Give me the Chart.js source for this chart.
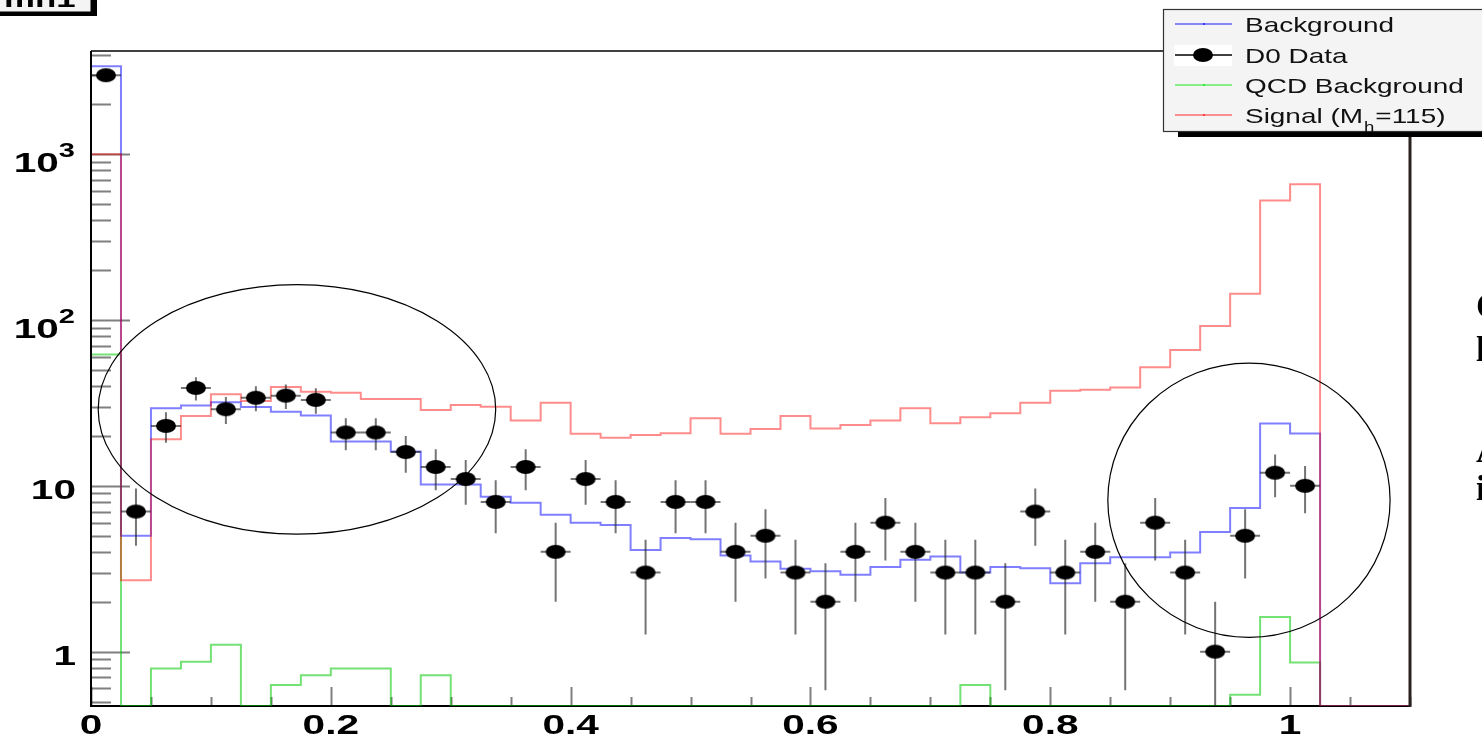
<!DOCTYPE html>
<html>
<head>
<meta charset="utf-8">
<script src="https://cdn.jsdelivr.net/npm/chart.js@4.4.1/dist/chart.umd.min.js"></script>
<style>
  html, body { margin: 0; padding: 0; background: #ffffff; }
  #wrap { width: 1482px; height: 736px; overflow: hidden; }
</style>
</head>
<body>
<div id="wrap"><canvas id="plot" width="1482" height="736"></canvas></div>
<script>
// bins of the discriminant (low edges), width 0.025
var binLow = [0.000, 0.025, 0.050, 0.075, 0.100, 0.125, 0.150, 0.175, 0.200, 0.225,
  0.250, 0.275, 0.300, 0.325, 0.350, 0.375, 0.400, 0.425, 0.450, 0.475,
  0.500, 0.525, 0.550, 0.575, 0.600, 0.625, 0.650, 0.675, 0.700, 0.725,
  0.750, 0.775, 0.800, 0.825, 0.850, 0.875, 0.900, 0.925, 0.950, 0.975,
  1.000, 1.025, 1.050, 1.075];
var binWidth = 0.025;

var background = [3400, 5.0, 29.4, 30.5, 32, 29.9, 28, 26.6, 18.5, 18.5,
  16.1, 10.2, 10.2, 8.6, 7.9, 6.7, 6.0, 5.8, 4.1, 4.84,
  4.77, 3.8, 3.5, 3.16, 3.05, 2.91, 3.24, 3.58, 3.75, 3.0,
  3.24, 3.19, 2.59, 3.41, 3.71, 3.71, 3.96, 5.26, 7.35, 23.8,
  20.7, 0, 0, 0];
var qcdBackground = [62, 0, 0.79, 0.87, 1.10, 0, 0.63, 0.72, 0.79, 0.79,
  0, 0.72, 0, 0, 0, 0, 0, 0, 0, 0,
  0, 0, 0, 0, 0, 0, 0, 0, 0, 0.63,
  0, 0, 0, 0, 0, 0, 0, 0, 0.55, 1.62,
  0.86, 0, 0, 0];
var signal = [1000, 2.7, 19.1, 26.4, 35.7, 32.5, 39.5, 37.0, 36.4, 33.4,
  33.4, 28.7, 30.8, 30, 24.8, 31.7, 20.6, 19.5, 20.3, 20.8,
  25.6, 20.6, 22.0, 26.4, 22.2, 23.3, 24.8, 29.4, 23.9, 25.9,
  27.4, 31.7, 37.5, 38, 39.2, 52, 66, 92, 144, 526,
  659, 0, 0, 0];
var d0Data = [3000, 7, 23, 39, 29, 34, 35, 33, 21, 21,
  16, 13, 11, 8, 13, 4, 11, 8, 3, 8,
  8, 4, 5, 3, 2, 4, 6, 4, 3, 3,
  2, 7, 3, 4, 2, 6, 3, 1, 5, 12,
  10];

var xTickLabels = [0, 0.2, 0.4, 0.6, 0.8, 1];
var yTickLabels = [1, 10, 100, 1000];
var legendLabels = ["Background", "D0 Data", "QCD Background", "Signal (M"];

var xMin = 0, xMax = 1.1;
var yMin = 0.47, yMax = 4200;

// circled regions, in data units [xLow, xHigh, yLow, yHigh]
var circles = [
  [0.006, 0.3375, 5.12, 163.5],
  [0.848, 1.0834, 1.22, 55.0]
];

function histPoints(values) {
  var pts = [];
  for (var i = 0; i < values.length; i++) {
    pts.push({ x: binLow[i], y: values[i] > 0 ? values[i] : yMin });
  }
  pts.push({ x: xMax, y: pts[pts.length - 1].y });
  return pts;
}

var dataPoints = d0Data.map(function (v, i) {
  return { x: binLow[i] + binWidth / 2, y: v };
});

// elliptical black marker (the picture is stretched sideways)
var marker = document.createElement("canvas");
marker.width = 22;
marker.height = 16;
var mctx = marker.getContext("2d");
mctx.fillStyle = "#000";
mctx.beginPath();
mctx.ellipse(11, 8, 10, 7, 0, 0, 2 * Math.PI);
mctx.fill();

var SX = 1.45; // horizontal text stretch

function wideText(ctx, text, x, y, sx, align) {
  var w = ctx.measureText(text).width * sx;
  var x0 = x;
  if (align === "center") x0 = x - w / 2;
  if (align === "right") x0 = x - w;
  ctx.save();
  ctx.translate(x0, y);
  ctx.scale(sx, 1);
  ctx.textAlign = "left";
  ctx.fillText(text, 0, 0);
  ctx.restore();
  return w;
}

var rootStyle = {
  id: "rootStyle",
  beforeDatasetsDraw: function (chart) {
    var ctx = chart.ctx, a = chart.chartArea;
    var xs = chart.scales.x, ys = chart.scales.y;
    ctx.save();
    // bottom axis line (zero bins are drawn over it)
    ctx.strokeStyle = "#000";
    ctx.lineWidth = 2;
    ctx.beginPath();
    ctx.moveTo(a.left, a.bottom);
    ctx.lineTo(a.right, a.bottom);
    ctx.stroke();

    ctx.strokeStyle = "rgba(0,0,0,0.5)";
    ctx.lineWidth = 2;
    // y ticks, inside the frame
    for (var e = -1; e <= 3; e++) {
      for (var m = 1; m <= 9; m++) {
        var v = m * Math.pow(10, e);
        if (v < yMin || v > yMax) continue;
        var py = Math.round(ys.getPixelForValue(v)) + 0.5;
        ctx.beginPath();
        ctx.moveTo(a.left, py);
        ctx.lineTo(a.left + (m === 1 ? 39 : 20), py);
        ctx.stroke();
      }
    }
    // x ticks
    for (var k = 0; k <= 22; k++) {
      var xv = k * 0.05;
      var px = Math.round(xs.getPixelForValue(xv)) + 0.5;
      ctx.beginPath();
      ctx.moveTo(px, a.bottom);
      ctx.lineTo(px, a.bottom - (k % 4 === 0 ? 19 : 9));
      ctx.stroke();
    }
    ctx.restore();
  },
  beforeDatasetDraw: function (chart, args) {
    if (args.index !== 1) return;
    var ctx = chart.ctx, a = chart.chartArea;
    var xs = chart.scales.x, ys = chart.scales.y;
    ctx.save();
    ctx.beginPath();
    ctx.rect(a.left, a.top, a.right - a.left, a.bottom - a.top);
    ctx.clip();
    ctx.strokeStyle = "rgba(30,30,30,0.62)";
    ctx.lineWidth = 2;
    dataPoints.forEach(function (p) {
      var err = Math.sqrt(p.y);
      var px = xs.getPixelForValue(p.x);
      var top = ys.getPixelForValue(p.y + err);
      var low = p.y - err > yMin ? ys.getPixelForValue(p.y - err) : a.bottom;
      var py = ys.getPixelForValue(p.y);
      ctx.beginPath();
      ctx.moveTo(px, top);
      ctx.lineTo(px, low);
      ctx.moveTo(xs.getPixelForValue(p.x - binWidth / 2), py);
      ctx.lineTo(xs.getPixelForValue(p.x + binWidth / 2), py);
      ctx.stroke();
    });
    ctx.restore();
  },
  afterDraw: function (chart) {
    var ctx = chart.ctx, a = chart.chartArea;
    var xs = chart.scales.x, ys = chart.scales.y;
    ctx.save();

    // frame (top, left, right)
    ctx.strokeStyle = "#000";
    ctx.lineWidth = 1.5;
    ctx.beginPath();
    ctx.moveTo(a.left, a.top);
    ctx.lineTo(a.right, a.top);
    ctx.stroke();
    ctx.lineWidth = 3;
    ctx.strokeStyle = "#2a2020";
    ctx.beginPath();
    ctx.moveTo(a.right, a.top);
    ctx.lineTo(a.right, a.bottom + 1);
    ctx.stroke();
    ctx.lineWidth = 2;
    ctx.strokeStyle = "#000";
    ctx.beginPath();
    ctx.moveTo(a.left, a.top);
    ctx.lineTo(a.left, a.bottom + 1);
    ctx.stroke();

    // circles
    ctx.strokeStyle = "#000";
    ctx.lineWidth = 1.2;
    circles.forEach(function (c) {
      var x0 = xs.getPixelForValue(c[0]), x1 = xs.getPixelForValue(c[1]);
      var y0 = ys.getPixelForValue(c[3]), y1 = ys.getPixelForValue(c[2]);
      ctx.beginPath();
      ctx.ellipse((x0 + x1) / 2, (y0 + y1) / 2, (x1 - x0) / 2, (y1 - y0) / 2, 0, 0, 2 * Math.PI);
      ctx.stroke();
    });

    // axis labels
    ctx.fillStyle = "#000";
    ctx.textBaseline = "alphabetic";
    ctx.font = "bold 28px 'Liberation Sans', Arial, sans-serif";
    xTickLabels.forEach(function (v) {
      wideText(ctx, String(v), xs.getPixelForValue(v), 734, SX, "center");
    });
    yTickLabels.forEach(function (v) {
      var py = ys.getPixelForValue(v);
      var ex = Math.round(Math.log10(v));
      if (ex < 2) {
        ctx.font = "bold 28px 'Liberation Sans', Arial, sans-serif";
        wideText(ctx, String(v), 76, py + 13, SX, "right");
      } else {
        ctx.font = "bold 20px 'Liberation Sans', Arial, sans-serif";
        var sw = wideText(ctx, String(ex), 75, py + 3, SX, "right");
        ctx.font = "bold 28px 'Liberation Sans', Arial, sans-serif";
        wideText(ctx, "10", 75 - sw, py + 18, SX, "right");
      }
    });

    // legend box
    var lx = 1163, ly = 9, lw = 340, lh = 122;
    ctx.fillStyle = "#000";
    ctx.fillRect(lx + 15, ly + lh, lw, 6);
    ctx.fillStyle = "#f4f4f4";
    ctx.fillRect(lx, ly, lw, lh);
    ctx.strokeStyle = "#333";
    ctx.lineWidth = 1.2;
    ctx.strokeRect(lx + 0.5, ly + 0.5, lw, lh);
    ctx.fillStyle = "#ffffff";
    ctx.fillRect(1174, 45, 58, 21);
    var rows = [24, 55, 85, 115];
    var sets = chart.data.datasets;
    for (var i = 0; i < 4; i++) {
      var ds = sets[i];
      ctx.strokeStyle = ds.legendColor;
      ctx.lineWidth = 1.5;
      ctx.beginPath();
      ctx.moveTo(1175, rows[i]);
      ctx.lineTo(1232, rows[i]);
      ctx.stroke();
      if (i === 1) {
        ctx.drawImage(marker, 1203 - 11, rows[i] - 8);
      } else {
        ctx.fillStyle = ds.legendColor;
        ctx.fillRect(1203, rows[i] - 1, 2, 2);
      }
      ctx.fillStyle = "#111";
      ctx.font = "21px 'Liberation Sans', Arial, sans-serif";
      var tw = wideText(ctx, legendLabels[i], 1245, rows[i] + 7.5, 1.33, "left");
      if (i === 3) {
        ctx.font = "14px 'Liberation Sans', Arial, sans-serif";
        var hw = wideText(ctx, "h", 1245 + tw + 1, rows[i] + 17, 1.33, "left");
        ctx.font = "21px 'Liberation Sans', Arial, sans-serif";
        wideText(ctx, "=115)", 1245 + tw + hw + 2, rows[i] + 7.5, 1.33, "left");
      }
    }

    // title box in the top-left corner, cut by the edge
    ctx.fillStyle = "#000";
    ctx.fillRect(-5, 10, 102, 6);
    ctx.fillRect(91, -5, 6, 21);
    ctx.fillStyle = "#f4f4f4";
    ctx.fillRect(-5, -5, 96, 17);
    ctx.strokeStyle = "#000";
    ctx.lineWidth = 1;
    ctx.strokeRect(-5, -5, 96, 17);
    ctx.fillStyle = "#000";
    ctx.font = "bold 24px 'Liberation Sans', Arial, sans-serif";
    wideText(ctx, "mh1", 4, 7, SX, "left");

    // text of the slide beside the plot, cut by the edge
    ctx.font = "bold 36px 'Liberation Serif', serif";
    ctx.textAlign = "left";
    ctx.fillText("Cuts", 1476, 318);
    ctx.fillText("low", 1476, 361);
    ctx.fillText("At", 1476, 462);
    ctx.fillText("in", 1476, 500);

    ctx.restore();
  }
};

document.addEventListener("DOMContentLoaded", function () {
  var ctxPlot = document.getElementById("plot").getContext("2d");

  // histograms: points at the low bin edges, each value held until the next edge
  new Chart(ctxPlot, {
    type: "line",
    data: {
      datasets: [
        {
          label: "Background",
          data: histPoints(background),
          stepped: "before",
          borderColor: "rgba(0, 0, 255, 0.5)",
          legendColor: "rgba(0, 0, 255, 0.6)",
          borderWidth: 2,
          pointRadius: 0,
          fill: false,
          order: 2,
        },
        {
          label: "D0 Data",
          data: dataPoints,
          showLine: false,
          pointStyle: marker,
          pointRadius: 8,
          borderColor: "#000",
          legendColor: "#000",
          order: 0,
        },
        {
          label: "QCD Background",
          data: histPoints(qcdBackground),
          stepped: "before",
          borderColor: "rgba(0, 200, 0, 0.55)",
          legendColor: "rgba(0, 230, 0, 0.6)",
          borderWidth: 2,
          pointRadius: 0,
          fill: false,
          order: 3,
        },
        {
          label: "Signal (M_h=115)",
          data: histPoints(signal),
          stepped: "before",
          borderColor: "rgba(255, 0, 0, 0.45)",
          legendColor: "rgba(255, 0, 0, 0.55)",
          borderWidth: 2,
          pointRadius: 0,
          fill: false,
          order: 1,
        },
      ],
    },
    options: {
      responsive: false,
      devicePixelRatio: 1,
      animation: false,
      events: [],
      layout: {
        padding: { left: 91, top: 51, right: 72, bottom: 30 },
      },
      plugins: {
        legend: { display: false },
        tooltip: { enabled: false },
      },
      scales: {
        x: { type: "linear", min: xMin, max: xMax, display: false },
        y: { type: "logarithmic", min: yMin, max: yMax, display: false },
      },
    },
    plugins: [rootStyle],
  });
});
</script>
</body>
</html>
